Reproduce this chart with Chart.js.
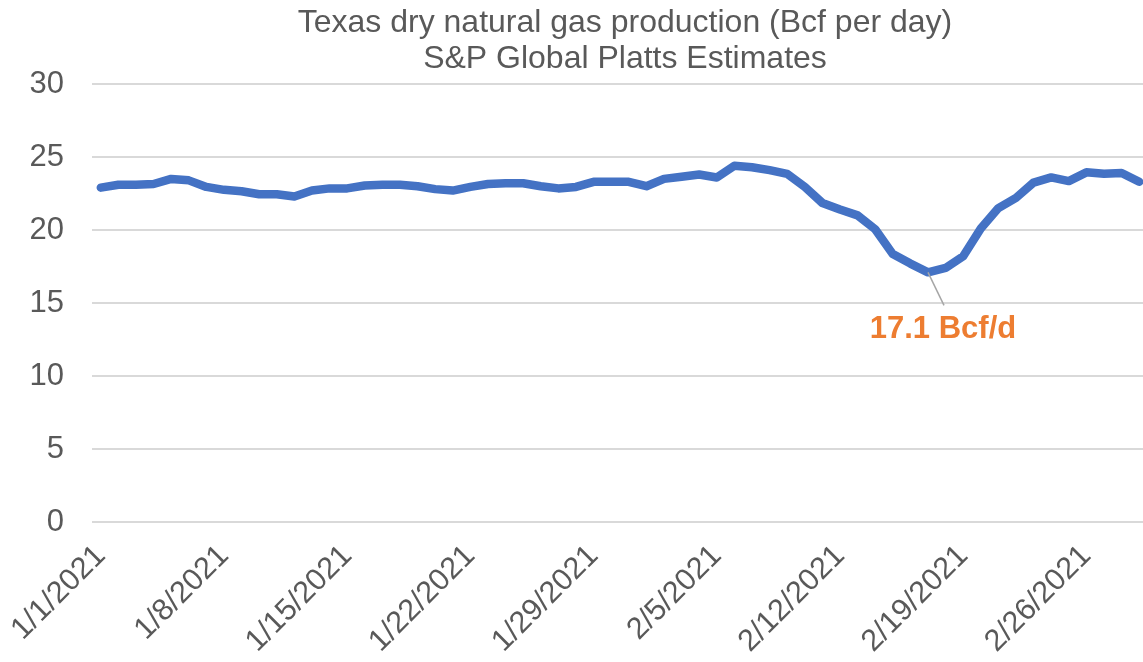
<!DOCTYPE html>
<html>
<head>
<meta charset="utf-8">
<style>
html,body{margin:0;padding:0;background:#ffffff;overflow:hidden;}
#wrap{position:relative;width:1150px;height:662px;}
</style>
<script src="https://cdn.jsdelivr.net/npm/chart.js@4/dist/chart.umd.min.js"></script>
</head>
<body>
<div id="wrap"><canvas id="c"></canvas></div>
<script>
const titleLines = ['Texas dry natural gas production (Bcf per day)', 'S&P Global Platts Estimates'];

const categories = [
  '1/1/2021','1/2/2021','1/3/2021','1/4/2021','1/5/2021','1/6/2021','1/7/2021',
  '1/8/2021','1/9/2021','1/10/2021','1/11/2021','1/12/2021','1/13/2021','1/14/2021',
  '1/15/2021','1/16/2021','1/17/2021','1/18/2021','1/19/2021','1/20/2021','1/21/2021',
  '1/22/2021','1/23/2021','1/24/2021','1/25/2021','1/26/2021','1/27/2021','1/28/2021',
  '1/29/2021','1/30/2021','1/31/2021','2/1/2021','2/2/2021','2/3/2021','2/4/2021',
  '2/5/2021','2/6/2021','2/7/2021','2/8/2021','2/9/2021','2/10/2021','2/11/2021',
  '2/12/2021','2/13/2021','2/14/2021','2/15/2021','2/16/2021','2/17/2021','2/18/2021',
  '2/19/2021','2/20/2021','2/21/2021','2/22/2021','2/23/2021','2/24/2021','2/25/2021',
  '2/26/2021','2/27/2021','2/28/2021','3/1/2021'
];

const production = [
  22.9, 23.1, 23.1, 23.15, 23.5, 23.4, 22.95,
  22.75, 22.65, 22.45, 22.45, 22.3, 22.7, 22.85,
  22.85, 23.05, 23.1, 23.1, 23.0, 22.8, 22.7,
  22.95, 23.15, 23.2, 23.2, 23.0, 22.85, 22.95,
  23.3, 23.3, 23.3, 23.0, 23.5, 23.65, 23.8,
  23.6, 24.4, 24.3, 24.1, 23.85, 22.95, 21.85,
  21.4, 21.0, 20.05, 18.35, 17.7, 17.1, 17.4,
  18.2, 20.1, 21.5, 22.2, 23.25, 23.6, 23.35,
  23.95, 23.85, 23.9, 23.3
];

const tickLabels = ['1/1/2021','1/8/2021','1/15/2021','1/22/2021','1/29/2021','2/5/2021','2/12/2021','2/19/2021','2/26/2021'];
const yTicks = [0, 5, 10, 15, 20, 25, 30];

const annotationIndex = 47;
const annotationText = '17.1 Bcf/d';

const FONT = "'Liberation Sans', Arial, sans-serif";
const GREY = '#595959';

const overlay = {
  id: 'overlay',
  afterDraw(chart) {
    const ctx = chart.ctx;
    const area = chart.chartArea;
    // title
    ctx.save();
    ctx.fillStyle = GREY;
    ctx.font = '32px ' + FONT;
    ctx.textAlign = 'center';
    ctx.textBaseline = 'middle';
    const cx = (area.left + area.right) / 2 + 5;
    ctx.fillText(titleLines[0], cx, 23);
    ctx.fillText(titleLines[1], cx, 59);
    ctx.restore();
    // annotation
    const meta = chart.getDatasetMeta(0);
    const pt = meta.data[annotationIndex];
    if (pt) {
      ctx.save();
      ctx.strokeStyle = '#a6a6a6';
      ctx.lineWidth = 1.5;
      ctx.beginPath();
      ctx.moveTo(pt.x, pt.y);
      ctx.lineTo(pt.x + 16, pt.y + 33);
      ctx.stroke();
      ctx.fillStyle = '#ED7D31';
      ctx.font = 'bold 31px ' + FONT;
      ctx.textAlign = 'center';
      ctx.textBaseline = 'middle';
      ctx.fillText(annotationText, pt.x + 15, pt.y + 57);
      ctx.restore();
    }
  }
};

new Chart(document.getElementById('c'), {
  type: 'line',
  data: {
    labels: categories,
    datasets: [{
      data: production,
      borderColor: '#4472C4',
      borderWidth: 8.5,
      pointRadius: 0,
      pointHoverRadius: 0,
      tension: 0,
      fill: false,
      borderJoinStyle: 'round',
      borderCapStyle: 'round'
    }]
  },
  options: {
    responsive: true,
    maintainAspectRatio: false,
    animation: false,
    layout: { padding: { top: 84, right: 2, left: 1.5, bottom: 0 } },
    plugins: {
      legend: { display: false },
      title: { display: false },
      tooltip: { enabled: false }
    },
    scales: {
      x: {
        offset: true,
        grid: { display: false },
        border: { display: false },
        afterFit: (scale) => {
          scale.paddingLeft = 0;
          scale.paddingRight = 0;
          scale.height = 140;
        },
        ticks: {
          autoSkip: false,
          minRotation: 45,
          maxRotation: 45,
          color: GREY,
          font: { family: FONT, size: 30.5 },
          padding: 8,
          callback: function (value) {
            const l = this.getLabelForValue(value);
            return tickLabels.includes(l) ? l : '';
          }
        }
      },
      y: {
        min: 0,
        max: 30,
        afterBuildTicks: (axis) => { axis.ticks = yTicks.map(v => ({ value: v })); },
        grid: { color: '#d9d9d9', lineWidth: 2, drawTicks: false },
        border: { display: false },
        ticks: {
          color: GREY,
          font: { family: FONT, size: 31 },
          padding: 28
        }
      }
    }
  },
  plugins: [overlay]
});
</script>
</body>
</html>
